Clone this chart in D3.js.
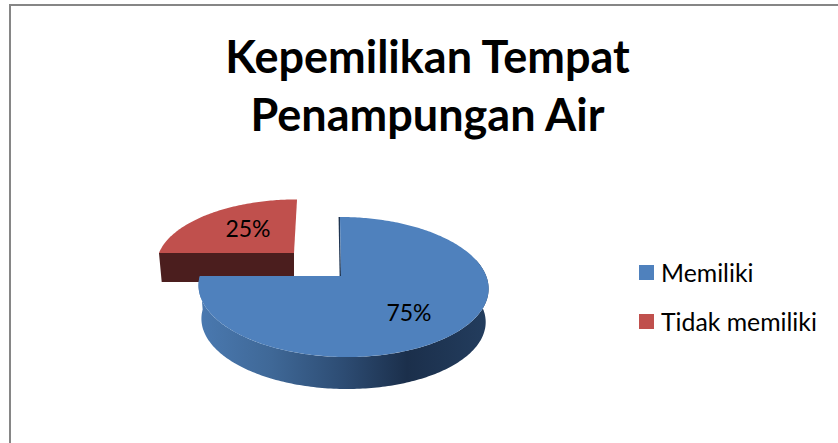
<!DOCTYPE html>
<html><head><meta charset="utf-8">
<script src="https://cdn.jsdelivr.net/npm/d3@7"></script>
<style>html,body{margin:0;padding:0;background:#fff}svg{display:block}</style>
</head><body><svg id="c" width="838" height="443"></svg>
<script>
const titleLines = ["Kepemilikan Tempat", "Penampungan Air"];
const categories = ["Memiliki", "Tidak memiliki"];
const values = [75, 25];
const colors = ["#4f81bd", "#c0504d"];

const svg = d3.select("#c");
const font = "Lato, Carlito, 'Open Sans', sans-serif";

// chart frame (top and left edges visible in the reference crop)
svg.append("path").attr("d", "M10,443V5H838").attr("fill", "none").attr("stroke", "#868686").attr("stroke-width", 2);

// title
svg.append("g").selectAll("text").data(titleLines).join("text")
  .attr("x", 427.5).attr("y", (d, i) => 73 + i * 58)
  .attr("text-anchor", "middle").attr("font-family", font)
  .attr("font-weight", 700).attr("font-size", 45).attr("fill", "#000").text(d => d);

// pie angles from data
const arcs = d3.pie().sort(null).startAngle(0).endAngle(2 * Math.PI)(values);

// perspective mapping of the disc onto the screen
const persp = 0.157;
function projector(o) {
  return (r, t, s = 1, dy = 0) => {
    const u = r * Math.sin(t), v = -r * Math.cos(t), w = 1 - persp * v;
    return [o.x + s * (o.a * u + o.c * v) / w, o.y + dy + s * o.b * v / w];
  };
}
const blue = projector({ x: 343, y: 276, a: 143.2, b: 68.3, c: 3.5 });
const red = projector({ x: 294, y: 253, a: 135, b: 62, c: -3.5 });
const blueApex = [341, 276];

const line = d3.line();
const angleStep = Math.PI / 180;
const span = (a0, a1) => d3.range(a0, a1, angleStep).concat([a1]);

const defs = svg.append("defs");
const grad = defs.append("linearGradient").attr("id", "side")
  .attr("gradientUnits", "userSpaceOnUse").attr("x1", 199).attr("x2", 488).attr("y1", 0).attr("y2", 0);
[[0, "#4a79b0"], [0.25, "#3f6897"], [0.5, "#2d4c73"], [0.72, "#1b2f4b"], [1, "#233d5e"]]
  .forEach(([o, c]) => grad.append("stop").attr("offset", o).attr("stop-color", c));

const depth = 33.6, shrink = 0.98;

// red slice: cut face, then top
const R = arcs[1];
const redWall = [red(0, 0), red(1, R.startAngle), red(1, R.startAngle, 0.98, 29), red(0, 0, 0.98, 29)];
svg.append("path").attr("d", line(redWall) + "Z").attr("fill", "#4b1e1e");
svg.append("path")
  .attr("d", line([red(0, 0), ...span(R.startAngle, R.endAngle).map(t => red(1, t))]) + "Z")
  .attr("fill", colors[1]);

// blue slice: outer side, inner sliver, top
const B = arcs[0];
const sideAngles = span(Math.PI * 0.42, B.endAngle);
const sidePts = sideAngles.map(t => blue(1, t))
  .concat(sideAngles.slice().reverse().map(t => blue(1, t, shrink, depth)));
svg.append("path").attr("d", line(sidePts) + "Z").attr("fill", "url(#side)");
svg.append("path").attr("d", line([blueApex, blue(1, 0)]))
  .attr("stroke", "#1f3552").attr("stroke-width", 1.4).attr("transform", "translate(-0.7,0)");
svg.append("path")
  .attr("d", line([blueApex, ...span(B.startAngle, B.endAngle).map(t => blue(1, t))]) + "Z")
  .attr("fill", colors[0]);

// data labels
const labelPos = [[409, 321], [248, 237]];
svg.append("g").selectAll("text").data(arcs).join("text")
  .attr("x", (d, i) => labelPos[i][0]).attr("y", (d, i) => labelPos[i][1])
  .attr("text-anchor", "middle").attr("font-family", font).attr("font-size", 23).attr("fill", "#000")
  .text(d => d3.format(".0%")(d.value / d3.sum(values)));

// legend
const legendY = d3.scalePoint().domain(categories).range([272.5, 321.5]);
const lg = svg.append("g").selectAll("g").data(categories).join("g")
  .attr("transform", d => `translate(639,${legendY(d)})`);
lg.append("rect").attr("x", 0).attr("y", -7.5).attr("width", 15).attr("height", 15)
  .attr("fill", (d, i) => colors[i]);
lg.append("text").attr("x", 22).attr("y", 9).attr("font-family", font).attr("font-size", 24.8)
  .attr("fill", "#000").text(d => d);
</script></body></html>
